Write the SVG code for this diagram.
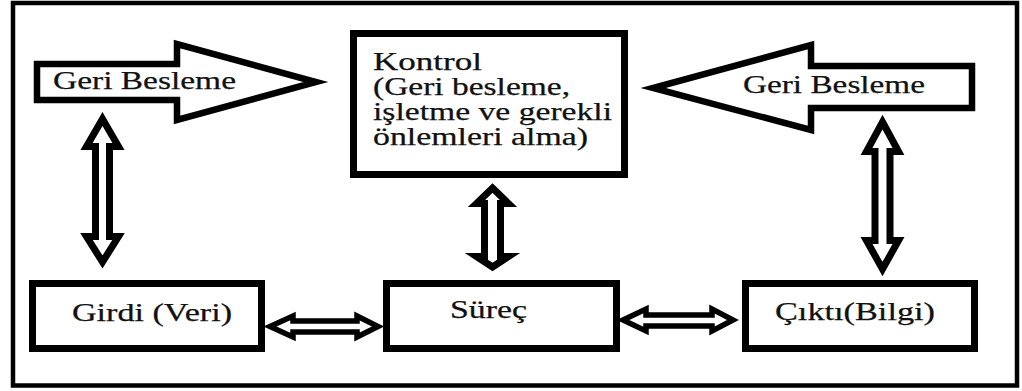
<svg xmlns="http://www.w3.org/2000/svg" width="1022" height="391" viewBox="0 0 1022 391">
<style>
.frame{fill:none;stroke:#000;stroke-width:4.5}
.box{fill:#fff;stroke:#000;stroke-width:7}
.big{fill:#fff;stroke:#000;stroke-width:6.5;stroke-linejoin:miter}
.dbl{fill:#fff;stroke:#000;stroke-width:7;stroke-linejoin:miter;stroke-miterlimit:10}
.hdbl{fill:#fff;stroke:#000;stroke-width:5.5;stroke-linejoin:miter;stroke-miterlimit:10}
.t{font-family:'Liberation Serif','Times New Roman','DejaVu Serif',serif;font-size:25px;fill:#111;stroke:#111;stroke-width:0.25}
</style>
<rect width="1022" height="391" fill="#fff"/>
<rect class="frame" x="13" y="3" width="1004" height="382.5"/>
<g id="connectors">
<path class="dbl" d="M102.5,119 L118.5,146.5 L109.5,146.5 L109.5,236.5 L118.5,236.5 L102.5,262 L86.5,236.5 L95.5,236.5 L95.5,146.5 L86.5,146.5 Z"/>
<path class="dbl" d="M492.5,188 L508.5,203.5 L500.5,203.5 L500.5,256.5 L508.5,256.5 L492.5,267 L476.5,256.5 L484.5,256.5 L484.5,203.5 L476.5,203.5 Z"/>
<path class="dbl" d="M882.5,122 L898.5,151.5 L890,151.5 L890,240.5 L898.5,240.5 L882.5,269 L866.5,240.5 L875,240.5 L875,151.5 L866.5,151.5 Z"/>
<path class="hdbl" d="M270,326.5 L293,316 L293,321 L357,321 L357,316 L378,326.5 L357,337 L357,332 L293,332 L293,337 Z"/>
<path class="hdbl" d="M623,320 L646,309 L646,315 L712,315 L712,309 L733,320 L712,331 L712,326 L646,326 L646,331 Z"/>
</g>
<g id="feedback-left">
<polygon class="big" points="37,64 177,64 177,44 316,82 177,120 177,100 37,100"/>
<text class="t" x="53" y="89" textLength="183" lengthAdjust="spacingAndGlyphs">Geri Besleme</text>
</g>
<g id="feedback-right">
<polygon class="big" points="972,66 811,66 811,45 653,88 811,130 811,108 972,108"/>
<text class="t" x="743" y="93" textLength="182" lengthAdjust="spacingAndGlyphs">Geri Besleme</text>
</g>
<g id="kontrol">
<rect class="box" x="353.5" y="33.5" width="271" height="141"/>
<text class="t" x="373" y="70" textLength="109" lengthAdjust="spacingAndGlyphs">Kontrol</text>
<text class="t" x="373" y="95" textLength="197" lengthAdjust="spacingAndGlyphs">(Geri besleme,</text>
<text class="t" x="373" y="120" textLength="239" lengthAdjust="spacingAndGlyphs">işletme ve gerekli</text>
<text class="t" x="373" y="145" textLength="215" lengthAdjust="spacingAndGlyphs">önlemleri alma)</text>
</g>
<g id="girdi">
<rect class="box" x="32.5" y="283.5" width="229" height="65"/>
<text class="t" x="72" y="321" textLength="160" lengthAdjust="spacingAndGlyphs">Girdi (Veri)</text>
</g>
<g id="surec">
<rect class="box" x="386.5" y="283.5" width="230" height="65"/>
<text class="t" x="450" y="318" textLength="77" lengthAdjust="spacingAndGlyphs">Süreç</text>
</g>
<g id="cikti">
<rect class="box" x="745.5" y="283.5" width="229" height="65"/>
<text class="t" x="775" y="320" textLength="160" lengthAdjust="spacingAndGlyphs">Çıktı(Bilgi)</text>
</g>
</svg>
